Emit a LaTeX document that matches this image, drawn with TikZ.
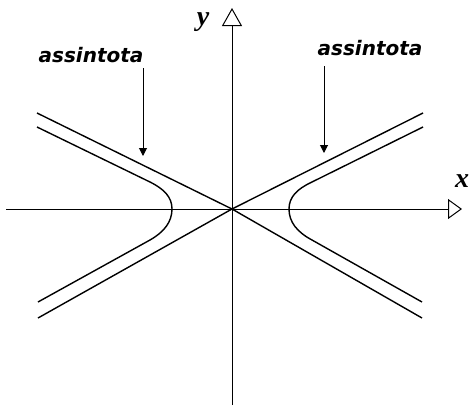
\documentclass[tikz,border=0pt]{standalone}
\usepackage{fontspec}
\newfontfamily\labfont{Liberation Serif}
\newfontfamily\notefont{DejaVu Sans}
\usetikzlibrary{arrows.meta}
\begin{document}
\begin{tikzpicture}[x=1pt,y=-1pt,
  xaxis/.style={line width=1pt,-{Triangle[open,length=14pt,width=20pt,line width=1pt]}},
  yaxis/.style={line width=1pt,-{Triangle[open,length=18pt,width=20pt,line width=1pt]}},
  curve/.style={line width=1.4pt},
  pointer/.style={line width=1pt,-{Triangle[length=8pt,width=8pt]}},
  axlabel/.style={font=\labfont\bfseries\itshape\fontsize{28}{28}\selectfont,inner sep=0pt},
  note/.style={font=\notefont\bfseries\itshape\fontsize{20}{20}\selectfont,inner sep=0pt,anchor=base}]
\useasboundingbox (0,0) rectangle (471,405);
% axes
\coordinate (O) at (232,209);
\coordinate (xL) at (6,209);
\coordinate (xR) at (462,209);
\coordinate (yB) at (232,405);
\coordinate (yT) at (232,8);
\draw[xaxis] (xL) -- (xR);
\draw[yaxis] (yB) -- (yT);
\node[axlabel] (ylab) at (203,22) {y};
\node[axlabel] (xlab) at (462,181) {x};
% asymptotes
\coordinate (a1) at (37,113);
\coordinate (a2) at (423,113);
\coordinate (a3) at (38,318);
\coordinate (a4) at (422,318);
\draw[curve] (a1) -- (O) -- (a4);
\draw[curve] (a3) -- (O) -- (a2);
% hyperbola branches
\coordinate (h1) at (37,127);
\coordinate (h2) at (38,302);
\coordinate (h3) at (423,127);
\coordinate (h4) at (422,302);
\coordinate (vL) at (172,209);
\coordinate (vR) at (289,209);
\draw[curve,line join=round] (h1) -- (150,182) .. controls (164,189) and (172,197) .. (vL)
  .. controls (172,222) and (164,232) .. (150,240) -- (h2);
\draw[curve,line join=round] (h3) -- (312,182) .. controls (297,189) and (289,197) .. (vR)
  .. controls (289,222) and (297,232) .. (312,240) -- (h4);
% labels
\node[note] (nL) at (91,62) {assintota};
\node[note] (nR) at (370,55) {assintota};
\coordinate (pL1) at (143,68);
\coordinate (pL2) at (143,156);
\coordinate (pR1) at (324,66);
\coordinate (pR2) at (324,153);
\draw[pointer] (pL1) -- (pL2);
\draw[pointer] (pR1) -- (pR2);
\end{tikzpicture}
\end{document}
